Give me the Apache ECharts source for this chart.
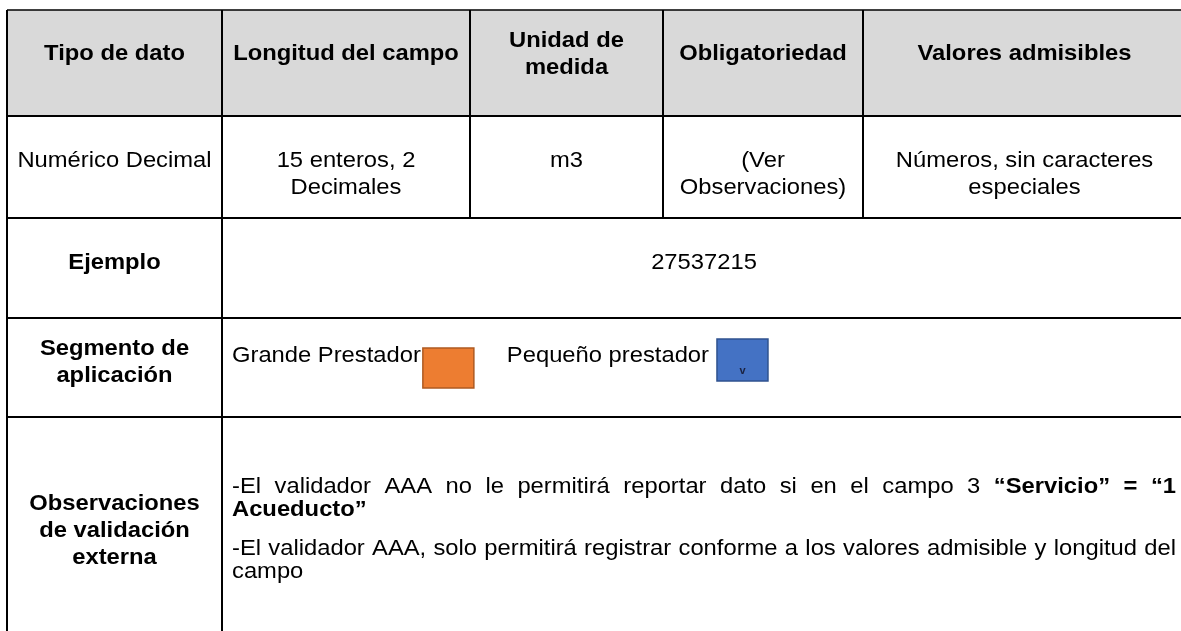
<!DOCTYPE html>
<html>
<head>
<meta charset="utf-8">
<script src="https://cdn.jsdelivr.net/npm/echarts@6/dist/echarts.min.js"></script>
<style>html,body{margin:0;padding:0;background:#fff;}#c{width:1181px;height:631px;}</style>
</head>
<body>
<div id="c"></div>
<script>
// ---- data ----
const headers = ['Tipo de dato', 'Longitud del campo', 'Unidad de\nmedida', 'Obligatoriedad', 'Valores admisibles'];
const row2 = ['Numérico Decimal', '15 enteros, 2\nDecimales', 'm3', '(Ver\nObservaciones)', 'Números, sin caracteres\nespeciales'];
const rowLabels = ['Ejemplo', 'Segmento de\naplicación', 'Observaciones\nde validación\nexterna'];
const example = '27537215';
const segments = ['Grande Prestador', 'Pequeño prestador'];
const segmentColors = ['#ED7D31', '#4472C4'];
const segmentBorders = ['#AE5A21', '#2F528F'];
const obsParagraphs = [
  [{t: '-El validador AAA no le permitirá reportar dato si en el campo 3', b: false}, {t: '“Servicio” = “1 Acueducto”', b: true}],
  [{t: '-El validador AAA, solo permitirá registrar conforme a los valores admisible y longitud del campo', b: false}]
];

// ---- layout ----
const colX = [7, 222, 470, 663, 863, 1186];
const rowY = [10, 116, 218, 318, 417, 660];
const FS = 22, SX = 1.08, LH = 27, PLH = 23;
const FAMILY = '"Liberation Sans", Arial, sans-serif';
const font = b => (b ? 'bold ' : '') + FS + 'px ' + FAMILY;
const cv = document.createElement('canvas').getContext('2d');
function tw(s, b) { cv.font = font(b); return cv.measureText(s).width * SX; }

const els = [];
function txt(s, x, y, b, align) {
  els.push({type: 'text', x: x, y: y, scaleX: SX, z: 10,
    style: {text: s, font: font(b), fill: '#000', align: align || 'center', verticalAlign: 'middle',
            textAlign: align || 'center', textVerticalAlign: 'middle'}});
}
function lines(s, cx, cy0, b, lh) {
  s.split('\n').forEach((l, i) => txt(l, cx, cy0 + i * lh, b));
}
function ln(x1, y1, x2, y2, w) {
  els.push({type: 'line', z: 20, shape: {x1, y1, x2, y2}, style: {stroke: '#000', lineWidth: w || 2}});
}

// header background
els.push({type: 'rect', z: 1, shape: {x: colX[0], y: rowY[0], width: colX[5] - colX[0], height: rowY[1] - rowY[0]}, style: {fill: '#d9d9d9'}});

// header text (vertically centred around y=53)
headers.forEach((h, i) => {
  const cx = (colX[i] + colX[i + 1]) / 2;
  const n = h.split('\n').length;
  lines(h, cx, 54 - (n - 1) * LH / 2, true, LH);
});
// row 2 text (top aligned)
row2.forEach((h, i) => {
  const cx = (colX[i] + colX[i + 1]) / 2;
  lines(h, cx, 161, false, LH);
});
// label column
const labelCx = (colX[0] + colX[1]) / 2;
lines(rowLabels[0], labelCx, 263, true, LH);
lines(rowLabels[1], labelCx, 349, true, LH);
lines(rowLabels[2], labelCx, 504, true, LH);
// example
txt(example, (colX[1] + colX[5]) / 2, 263, false);

// segment row
let sx = 232;
const segY = 356;
segments.forEach((s, i) => {
  txt(s, sx, segY, false, 'left');
  sx += tw(s, false) + (i === 0 ? 2 : 8);
  const by = i === 0 ? 348 : 339, bh = i === 0 ? 40 : 42;
  els.push({type: 'rect', z: 5, shape: {x: sx, y: by, width: 51, height: bh},
    style: {fill: segmentColors[i], stroke: segmentBorders[i], lineWidth: 1.5}});
  if (i === 1) {
    els.push({type: 'text', x: sx + 25.5, y: by + bh - 10, z: 11,
      style: {text: 'v', font: 'bold 11px ' + FAMILY, fill: '#1a2240', align: 'center', verticalAlign: 'middle', textAlign: 'center', textVerticalAlign: 'middle'}});
  }
  sx += 51 + 33;
});

// observation paragraphs, justified
const pLeft = 232, pRight = 1176, pWidth = pRight - pLeft;
const spaceW = tw(' ', false);
const paraY = [487, 549];
obsParagraphs.forEach((para, pi) => {
  const words = [];
  para.forEach(seg => seg.t.split(' ').forEach(w => words.push({w, b: seg.b, width: tw(w, seg.b)})));
  const ls = [];
  let cur = [], curW = 0;
  words.forEach(w => {
    const need = cur.length ? curW + spaceW + w.width : w.width;
    if (need > pWidth && cur.length) { ls.push(cur); cur = [w]; curW = w.width; }
    else { cur.push(w); curW = need; }
  });
  if (cur.length) ls.push(cur);
  ls.forEach((line, li) => {
    const y = paraY[pi] + li * PLH;
    const total = line.reduce((a, w) => a + w.width, 0);
    const last = li === ls.length - 1;
    const gap = (!last && line.length > 1) ? (pWidth - total) / (line.length - 1) : spaceW;
    let x = pLeft;
    line.forEach(w => { txt(w.w, x, y, w.b, 'left'); x += w.width + gap; });
  });
});

// grid lines
ln(colX[0], rowY[0], 1181, rowY[0], 1.5);
for (let r = 1; r <= 4; r++) ln(colX[0] - 1, rowY[r], 1181, rowY[r], 2);
ln(colX[0], rowY[0], colX[0], 631, 2);
ln(colX[1], rowY[0], colX[1], 631, 2);
for (let c = 2; c <= 4; c++) ln(colX[c], rowY[0], colX[c], rowY[2], 2);

const chart = echarts.init(document.getElementById('c'), null, {renderer: 'canvas'});
chart.setOption({animation: false, backgroundColor: '#fff', graphic: {elements: els}});
</script>
</body>
</html>
